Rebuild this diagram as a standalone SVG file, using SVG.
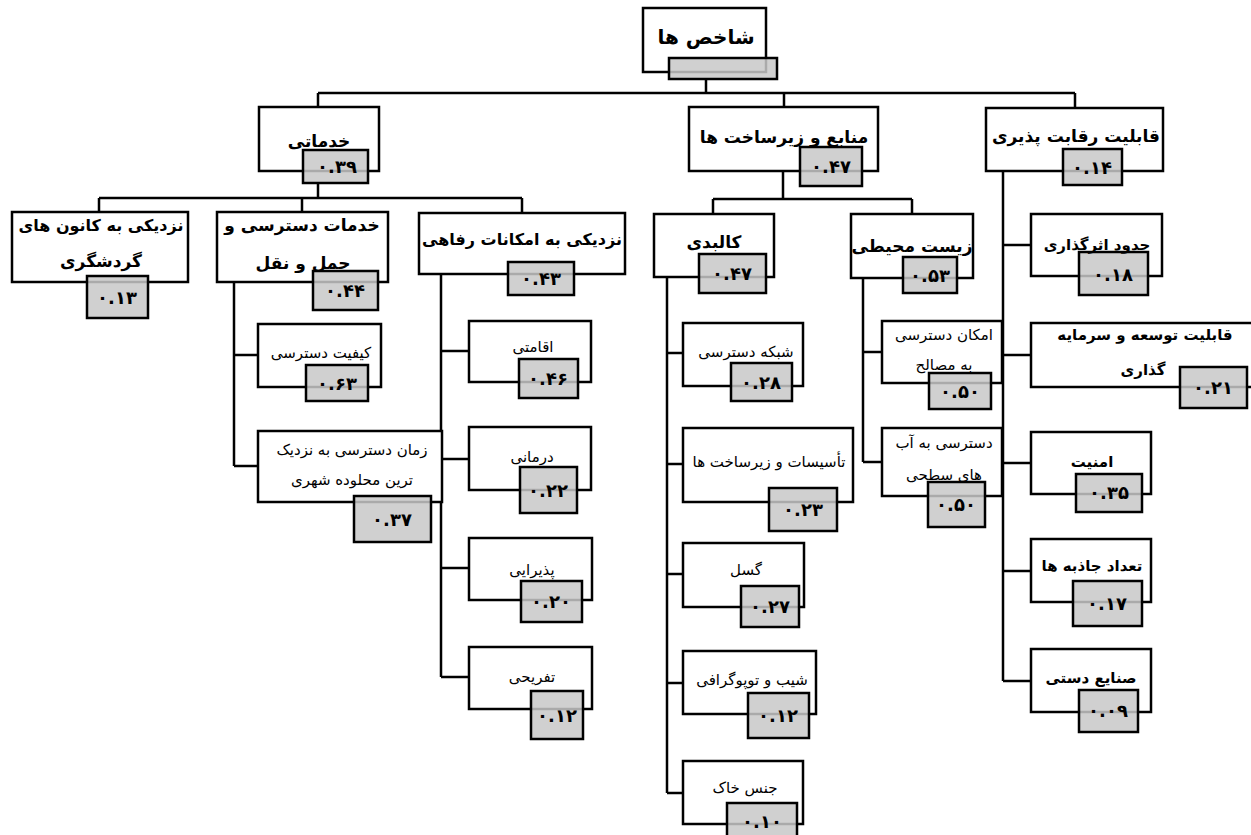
<svg xmlns="http://www.w3.org/2000/svg" width="1251" height="835" viewBox="0 0 1251 835">
<style>
.box{fill:#fff;stroke:#000;stroke-width:2.5}
.val{fill:#c8c8c8;fill-opacity:0.85;stroke:#000;stroke-width:2.5}
.conn{fill:none;stroke:#000;stroke-width:2.5}
text{font-family:"DejaVu Sans",sans-serif;text-anchor:middle;fill:#000}
.h1{font-size:20px;font-weight:bold}
.h2{font-size:17px;font-weight:bold}
.h2s{font-size:16px;font-weight:bold}
.h3{font-size:15px}
.h3b{font-size:15px;font-weight:bold}
.num{font-size:18px;font-weight:bold}
</style>
<rect width="1251" height="835" fill="#fff"/>
<g id="connectors">
<path class="conn" d="M706 79V93M318 93H1075M318 93V107M784 93V107M1075 93V108"/>
<path class="conn" d="M318 183V198M99 198H522M99 198V212M302 198V212M522 198V213"/>
<path class="conn" d="M234 282V466M234 355H258M234 466H258"/>
<path class="conn" d="M441 274V677M441 351H469M441 459H469M441 568H469M441 677H469"/>
<path class="conn" d="M783 171V199M713 199H912M713 199V214M912 199V214"/>
<path class="conn" d="M667 277V793M667 353H683M667 464H683M667 574H683M667 683H683M667 793H683"/>
<path class="conn" d="M863 278V462M863 352H882M863 462H882"/>
<path class="conn" d="M1003 171V681M1003 245H1031M1003 355H1031M1003 463H1031M1003 571H1031M1003 681H1031"/>
</g>
<g id="root"><rect class="box" x="643" y="8" width="123" height="64"/><rect class="val" x="669" y="58" width="108" height="21"/><text class="h1" x="706" y="44">شاخص ها</text></g>
<g id="khadamati"><rect class="box" x="259" y="107" width="120" height="64"/><rect class="val" x="303" y="150" width="65" height="33"/><text class="h2" x="319" y="147">خدماتی</text><text class="num" x="337" y="173">۰.۳۹</text></g>
<g id="manabe"><rect class="box" x="689" y="107" width="189" height="64"/><rect class="val" x="800" y="147" width="62" height="39"/><text class="h2" x="784" y="143">منابع و زیرساخت ها</text><text class="num" x="831" y="173">۰.۴۷</text></g>
<g id="reghabat"><rect class="box" x="986" y="108" width="177" height="63"/><rect class="val" x="1063" y="149" width="59" height="36"/><text class="h2" x="1076" y="142">قابلیت رقابت پذیری</text><text class="num" x="1092" y="174">۰.۱۴</text></g>
<g id="kanoon"><rect class="box" x="12" y="212" width="176" height="70"/><rect class="val" x="87" y="276" width="61" height="42"/><text class="h2s" x="101" y="231">نزدیکی به کانون های</text><text class="h2" x="101" y="267">گردشگری</text><text class="num" x="117" y="304">۰.۱۳</text></g>
<g id="haml"><rect class="box" x="217" y="212" width="171" height="70"/><rect class="val" x="313" y="271" width="65" height="39"/><text class="h2" x="302" y="231">خدمات دسترسی و</text><text class="h2" x="303" y="269">حمل و نقل</text><text class="num" x="345" y="297">۰.۴۴</text></g>
<g id="refahi"><rect class="box" x="419" y="213" width="206" height="61"/><rect class="val" x="508" y="262" width="66" height="33"/><text class="h2s" x="522" y="245">نزدیکی به امکانات رفاهی</text><text class="num" x="541" y="285">۰.۴۳</text></g>
<g id="kalbadi"><rect class="box" x="654" y="214" width="120" height="63"/><rect class="val" x="699" y="254" width="67" height="39"/><text class="h2" x="714" y="248">کالبدی</text><text class="num" x="732" y="280">۰.۴۷</text></g>
<g id="zist"><rect class="box" x="851" y="214" width="122" height="64"/><rect class="val" x="903" y="257" width="54" height="36"/><text class="h2" x="912" y="252">زیست محیطی</text><text class="num" x="930" y="282">۰.۵۳</text></g>
<g id="hodood"><rect class="box" x="1031" y="214" width="131" height="62"/><rect class="val" x="1079" y="252" width="69" height="43"/><text class="h3b" x="1097" y="250">حدود اثرگذاری</text><text class="num" x="1113" y="281">۰.۱۸</text></g>
<g id="keyfiat"><rect class="box" x="258" y="324" width="123" height="63"/><rect class="val" x="306" y="365" width="62" height="36"/><text class="h3" x="321" y="358">کیفیت دسترسی</text><text class="num" x="337" y="390">۰.۶۳</text></g>
<g id="zaman"><rect class="box" x="258" y="431" width="184" height="71"/><rect class="val" x="354" y="496" width="77" height="46"/><text class="h3" x="352" y="455">زمان دسترسی به نزدیک</text><text class="h3" x="352" y="485">ترین محلوده شهری</text><text class="num" x="392" y="526">۰.۳۷</text></g>
<g id="eghamati"><rect class="box" x="469" y="321" width="122" height="61"/><rect class="val" x="519" y="359" width="59" height="39"/><text class="h3" x="533" y="352">اقامتی</text><text class="num" x="548" y="385">۰.۴۶</text></g>
<g id="darmani"><rect class="box" x="469" y="427" width="122" height="63"/><rect class="val" x="520" y="467" width="57" height="46"/><text class="h3" x="532" y="462">درمانی</text><text class="num" x="548" y="497">۰.۲۲</text></g>
<g id="pazirayi"><rect class="box" x="469" y="538" width="123" height="62"/><rect class="val" x="521" y="581" width="61" height="41"/><text class="h3" x="532" y="575">پذیرایی</text><text class="num" x="551" y="608">۰.۲۰</text></g>
<g id="tafrihi"><rect class="box" x="469" y="647" width="123" height="62"/><rect class="val" x="531" y="691" width="52" height="48"/><text class="h3" x="532" y="682">تفریحی</text><text class="num" x="557" y="722">۰.۱۲</text></g>
<g id="shabake"><rect class="box" x="683" y="323" width="120" height="63"/><rect class="val" x="731" y="363" width="61" height="38"/><text class="h3" x="746" y="357">شبکه دسترسی</text><text class="num" x="761" y="389">۰.۲۸</text></g>
<g id="tasisat"><rect class="box" x="683" y="428" width="170" height="74"/><rect class="val" x="769" y="488" width="68" height="43"/><text class="h3" x="769" y="467">تأسیسات و زیرساخت ها</text><text class="num" x="803" y="516">۰.۲۳</text></g>
<g id="gosal"><rect class="box" x="683" y="543" width="121" height="64"/><rect class="val" x="741" y="586" width="58" height="41"/><text class="h3" x="746" y="575">گسل</text><text class="num" x="770" y="613">۰.۲۷</text></g>
<g id="shib"><rect class="box" x="683" y="651" width="133" height="63"/><rect class="val" x="748" y="693" width="61" height="45"/><text class="h3" x="752" y="685">شیب و توپوگرافی</text><text class="num" x="778" y="722">۰.۱۲</text></g>
<g id="jens"><rect class="box" x="683" y="761" width="120" height="63"/><rect class="val" x="727" y="803" width="70" height="40"/><text class="h3" x="745" y="793">جنس خاک</text><text class="num" x="762" y="828">۰.۱۰</text></g>
<g id="masaleh"><rect class="box" x="882" y="321" width="120" height="62"/><rect class="val" x="929" y="373" width="62" height="36"/><text class="h3" x="944" y="340">امکان دسترسی</text><text class="h3" x="944" y="370">به مصالح</text><text class="num" x="960" y="398">۰.۵۰</text></g>
<g id="ab"><rect class="box" x="882" y="428" width="120" height="68"/><rect class="val" x="928" y="482" width="57" height="45"/><text class="h3" x="944" y="448">دسترسی به آب</text><text class="h3" x="944" y="480">های سطحی</text><text class="num" x="956" y="511">۰.۵۰</text></g>
<g id="tose"><rect class="box" x="1031" y="323" width="230" height="64"/><rect class="val" x="1180" y="367" width="67" height="41"/><text class="h3b" x="1145" y="340">قابلیت توسعه و سرمایه</text><text class="h3b" x="1143" y="375">گذاری</text><text class="num" x="1213" y="394">۰.۲۱</text></g>
<g id="amniat"><rect class="box" x="1031" y="432" width="120" height="62"/><rect class="val" x="1076" y="474" width="66" height="38"/><text class="h3b" x="1092" y="467">امنیت</text><text class="num" x="1109" y="499">۰.۳۵</text></g>
<g id="jazebe"><rect class="box" x="1031" y="539" width="120" height="63"/><rect class="val" x="1073" y="581" width="69" height="45"/><text class="h3b" x="1092" y="571">تعداد جاذبه ها</text><text class="num" x="1107" y="610">۰.۱۷</text></g>
<g id="sanaye"><rect class="box" x="1031" y="649" width="120" height="63"/><rect class="val" x="1079" y="690" width="59" height="42"/><text class="h3b" x="1091" y="683">صنایع دستی</text><text class="num" x="1108" y="717">۰.۰۹</text></g>
</svg>
